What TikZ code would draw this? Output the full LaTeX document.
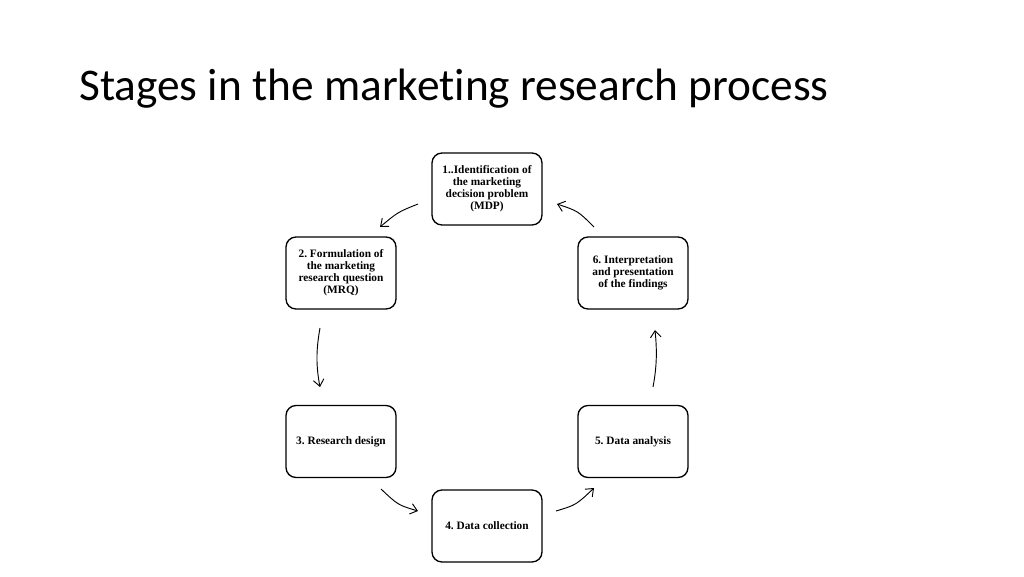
\documentclass[tikz,border=0pt]{standalone}
\usepackage{fontspec}
\setmainfont{Liberation Serif}
\newfontfamily\titlefont[Ligatures=NoCommon]{Carlito}
\usetikzlibrary{arrows.meta}
\frenchspacing
\tikzset{
  stagebox/.style={draw=black, line width=1pt, rounded corners=7.5pt, minimum width=82.5pt, minimum height=54pt, align=center, inner sep=2pt, font=\bfseries\fontsize{8.5pt}{9pt}\selectfont, fill=white},
  flow/.style={line width=0.7pt, -{Straight Barb[length=5pt,width=8pt]}}
}
\begin{document}
\begin{tikzpicture}[x=0.75pt,y=-0.75pt]
\useasboundingbox (0,0) rectangle (1024,576);
\node[anchor=base west, inner sep=0pt, font=\titlefont\fontsize{34pt}{40pt}\selectfont] (title) at (79,100) {Stages in the marketing research process};
\node[stagebox] (s1) at (487,189) {1..Identification of\\the marketing\\decision problem\\(MDP)};
\node[stagebox] (s2) at (341,273) {2. Formulation of\\the marketing\\research question\\(MRQ)};
\node[stagebox] (s6) at (633,273) {6. Interpretation\\and presentation\\of the findings};
\node[stagebox] (s3) at (341,441.5) {3. Research design};
\node[stagebox] (s5) at (633,441.5) {5. Data analysis};
\node[stagebox] (s4) at (487,526) {4. Data collection};
\coordinate (a12s) at (418,204); \coordinate (a12e) at (380,227);
\coordinate (a23s) at (320,328); \coordinate (a23e) at (320,387);
\coordinate (a34s) at (381,489); \coordinate (a34e) at (418,511);
\coordinate (a45s) at (556,511); \coordinate (a45e) at (594,488);
\coordinate (a56s) at (653,387); \coordinate (a56e) at (655,330);
\coordinate (a61s) at (594,227); \coordinate (a61e) at (557,204);
\draw[flow] (a12s) .. controls (398,212) .. (a12e);
\draw[flow] (a23s) .. controls (316,350) and (316,366) .. (a23e);
\draw[flow] (a34s) .. controls (398,505) .. (a34e);
\draw[flow] (a45s) .. controls (576,505) .. (a45e);
\draw[flow] (a56s) .. controls (657,366) and (657,350) .. (a56e);
\draw[flow] (a61s) .. controls (578,211) .. (a61e);
\end{tikzpicture}
\end{document}
